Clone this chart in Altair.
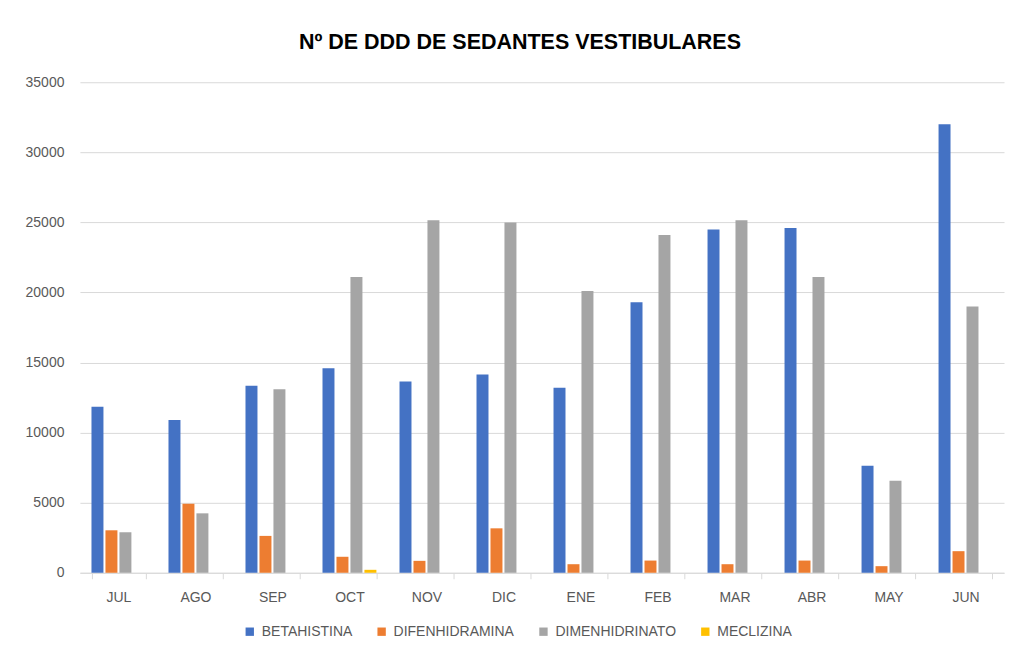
import altair as alt
import pandas as pd

months = ["JUL", "AGO", "SEP", "OCT", "NOV", "DIC", "ENE", "FEB", "MAR", "ABR", "MAY", "JUN"]
series = ["BETAHISTINA", "DIFENHIDRAMINA", "DIMENHIDRINATO", "MECLIZINA"]
betahistina = [11850, 10900, 13350, 14600, 13650, 14150, 13200, 19300, 24500, 24600, 7630, 32000]
difenhidramina = [3030, 4930, 2630, 1140, 850, 3170, 610, 870, 610, 870, 470, 1540]
dimenhidrinato = [2890, 4240, 13100, 21100, 25150, 25000, 20100, 24100, 25150, 21100, 6560, 19000]
meclizina = [0, 0, 0, 210, 0, 0, 0, 0, 0, 0, 0, 0]
colors = ["#4472C4", "#ED7D31", "#A5A5A5", "#FFC000"]

rows = []
for name, vals in zip(series, [betahistina, difenhidramina, dimenhidrinato, meclizina]):
    for m, v in zip(months, vals):
        rows.append({"mes": m, "serie": name, "valor": v})
df = pd.DataFrame(rows)

font = "Liberation Sans"

chart = alt.Chart(df).mark_bar().encode(
    x=alt.X("mes:N", sort=months, title=None,
            scale=alt.Scale(paddingInner=0.3, paddingOuter=0.15),
            axis=alt.Axis(labelAngle=0, tickBand="extent", domainColor="#D9D9D9",
                          tickColor="#D9D9D9", tickSize=6, labelPadding=12,
                          labelColor="#595959", labelFontSize=14, labelFont=font, grid=False)),
    xOffset=alt.XOffset("serie:N", sort=series, scale=alt.Scale(paddingInner=0.143)),
    y=alt.Y("valor:Q", title=None,
            scale=alt.Scale(domain=[0, 35000]),
            axis=alt.Axis(values=list(range(0, 35001, 5000)), format="d", ticks=False, domain=False,
                          gridColor="#D9D9D9", labelPadding=16, labelColor="#595959",
                          labelFontSize=14, labelFont=font)),
    color=alt.Color("serie:N", sort=series, scale=alt.Scale(domain=series, range=colors),
                    legend=alt.Legend(title=None, orient="none", direction="horizontal",
                                      legendX=163, legendY=543, symbolType="square",
                                      symbolSize=70, symbolStrokeWidth=0, labelFontSize=14,
                                      labelColor="#595959", labelFont=font, columnPadding=22,
                                      labelOffset=5, symbolOpacity=1)),
).properties(
    width=925,
    height=491,
    padding={"left": 72, "top": 74, "right": 5, "bottom": 76},
    autosize=alt.AutoSizeParams(type="none"),
    title=alt.TitleParams("Nº DE DDD DE SEDANTES VESTIBULARES", fontSize=21.5, fontWeight="bold",
                          font=font, color="#000000", offset=22, dx=-22, anchor="middle"),
).configure(background="white").configure_view(strokeWidth=0)

chart.save("out.html", embed_options={"renderer": "svg", "actions": False})
